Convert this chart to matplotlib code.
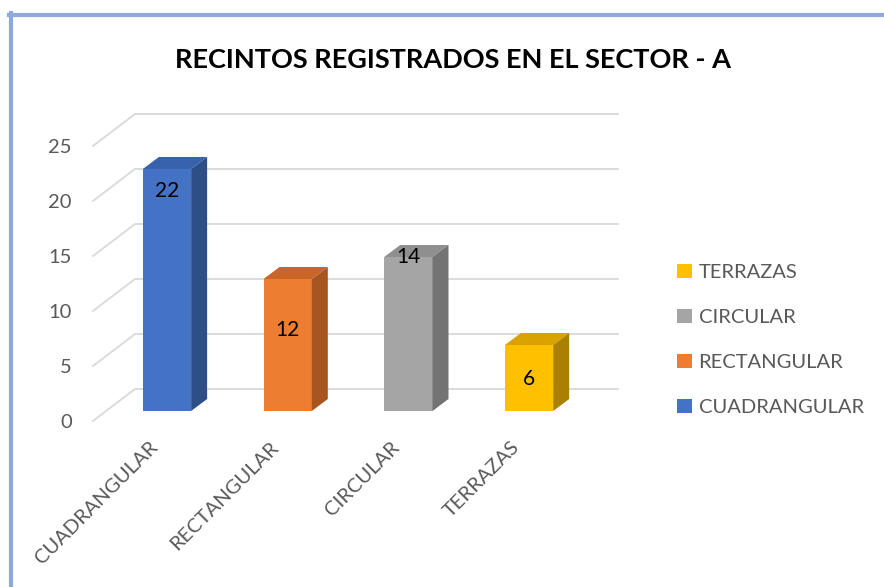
import matplotlib
matplotlib.use("Agg")
import matplotlib.pyplot as plt
from matplotlib.patches import Polygon, Patch
from matplotlib.lines import Line2D

# datos
categorias = ["CUADRANGULAR", "RECTANGULAR", "CIRCULAR", "TERRAZAS"]
valores = [22, 12, 14, 6]
ticks_y = [0, 5, 10, 15, 20, 25]
titulo = "RECINTOS REGISTRADOS EN EL SECTOR - A"

# colores (frente, tapa, lado)
col_frente = ["#4472C4", "#ED7D31", "#A5A5A5", "#FFC000"]
col_tapa = ["#3862AE", "#C96528", "#8F8F8F", "#D8A300"]
col_lado = ["#2E4E87", "#A8561F", "#737373", "#A98000"]

# posicion vertical de las etiquetas de datos (en unidades del eje)
pos_etiqueta = [20.0, 7.4, 14.0, 2.9]

plt.rcParams["font.family"] = ["Lato", "DejaVu Sans"]

W, H = 884, 587
fig = plt.figure(figsize=(W / 100, H / 100), dpi=100)

# ejes: pixel x 93..618, y 100..421
ax = fig.add_axes([93 / W, 1 - 421 / H, (618 - 93) / W, (421 - 100) / H])
ax.set_xlim(-0.613, 3.737)
ax.set_ylim(-0.909, 28.27)
ax.axis("off")

# geometria de la perspectiva
X_FRENTE, X_FONDO, X_FIN = -0.613, -0.265, 3.737
DY_FRENTE, DY_FONDO = -0.909, 2.0
DX, DY = 0.1326, 1.09
gris_grid = "#D9D9D9"

for v in ticks_y:
    ax.plot([X_FRENTE, X_FONDO, X_FIN], [v + DY_FRENTE, v + DY_FONDO, v + DY_FONDO],
            color=gris_grid, lw=1.3, zorder=1, clip_on=False)
    ax.text(-0.787, v - 1.05, str(v), ha="right", va="center",
            fontsize=14.5, color="#595959")

x = list(range(len(categorias)))
barras = ax.bar(x, valores, width=0.4, color=col_frente, zorder=3)

for i, rect in enumerate(barras):
    x0 = rect.get_x()
    x1 = x0 + rect.get_width()
    h = rect.get_height()
    tapa = Polygon([(x0, h), (x1, h), (x1 + DX, h + DY), (x0 + DX, h + DY)],
                   closed=True, facecolor=col_tapa[i], edgecolor="none", zorder=3)
    lado = Polygon([(x1, 0), (x1 + DX, DY), (x1 + DX, h + DY), (x1, h)],
                   closed=True, facecolor=col_lado[i], edgecolor="none", zorder=3)
    ax.add_patch(tapa)
    ax.add_patch(lado)
    ax.text(rect.get_x() + rect.get_width() / 2, pos_etiqueta[i], str(valores[i]),
            ha="center", va="center", fontsize=15, color="black", zorder=5)
    ax.text(i - 0.05, -2.5, categorias[i], rotation=45, ha="right", va="top",
            fontsize=14.5, color="#595959")

# leyenda (orden invertido)
handles = [Patch(facecolor=c, edgecolor="none") for c in col_frente][::-1]
fig.legend(handles, categorias[::-1], loc="center left",
           bbox_to_anchor=(677 / W, 1 - 340 / H), frameon=False,
           fontsize=14.5, labelcolor="#595959", handlelength=0.72, handleheight=0.72,
           handletextpad=0.35, labelspacing=1.38, borderpad=0, borderaxespad=0)

fig.text(453 / W, 1 - 60 / H, titulo, ha="center", va="center",
         fontsize=19.5, fontweight="bold", color="black")

# marco azul
azul = "#8EA9DB"
fig.add_artist(Line2D([8.5 / W, 1], [1 - 15.3 / H] * 2, color=azul, lw=3))
fig.add_artist(Line2D([10.5 / W] * 2, [0, 1 - 13 / H], color=azul, lw=3))

fig.savefig("out.png", dpi=100)
